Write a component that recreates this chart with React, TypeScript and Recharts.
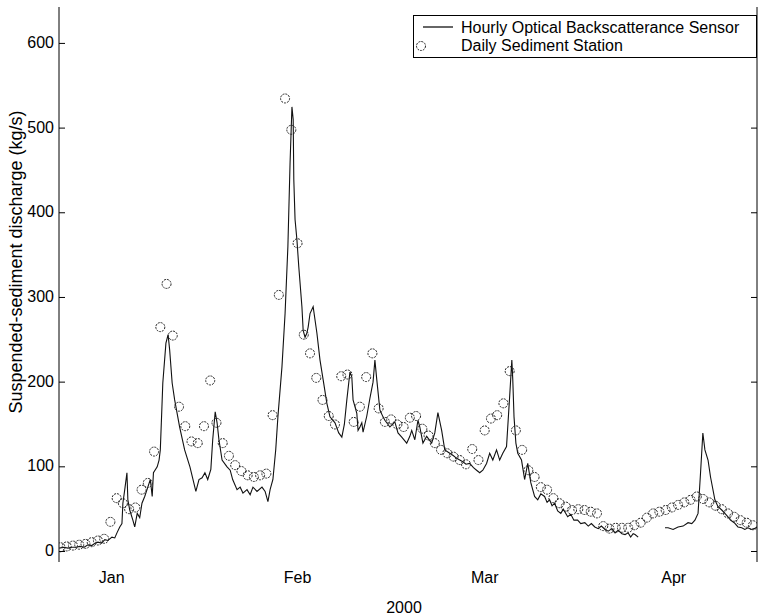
import React from 'react';
import { ComposedChart, Line, Scatter, XAxis, YAxis, Legend } from 'recharts';

const FONT = '"Liberation Sans", Arial, Helvetica, sans-serif';

// x is day of year 2000 (Jan 1 = 0)
const xDomain = [7.76, 119.65];
const yDomain = [-12.4, 643];
const yTicks = [0, 100, 200, 300, 400, 500, 600];
const monthStarts = [31, 60, 91];
const monthLabelDays = [16.2, 46, 76, 106.3];
const monthNames = ['Jan', 'Feb', 'Mar', 'Apr'];

// hourly optical backscatterance sensor
const sensorDays = [
  7.8, 8.5, 9.2, 9.8, 10.5, 11.1, 11.8, 12.4, 13.0, 13.6,
  14.0, 14.6, 15.1, 15.6, 16.25, 16.7, 17.05, 17.5, 17.85, 18.0,
  18.3, 18.65, 18.8, 19.1, 19.6, 19.9, 20.3, 20.7, 21.06, 21.5,
  22.0, 22.4, 22.7, 22.9, 23.5, 23.8, 24.0, 24.26, 24.4, 24.9,
  25.25, 25.5, 25.9, 26.3, 27.1, 27.9, 28.75, 29.7, 30.2, 30.7,
  31.15, 31.6, 32.1, 32.4, 32.8, 33.1, 33.4, 33.9, 34.7, 35.2,
  35.6, 36.3, 36.8, 37.25, 37.9, 38.4, 38.85, 39.5, 40.3, 40.8,
  41.25, 41.6, 42.05, 42.5, 42.85, 43.5, 44.0, 44.45, 44.8, 45.1,
  45.3, 45.4, 45.6, 45.9, 46.2, 46.7, 46.9, 47.2, 47.5, 47.7,
  48.0, 48.5, 49.1, 49.6, 50.1, 50.7, 51.2, 52.0, 52.6, 53.1,
  53.5, 53.9, 54.4, 54.7, 54.9, 55.5, 55.7, 56.0, 56.3, 56.5,
  57.1, 57.6, 58.1, 58.4, 58.7, 59.2, 59.7, 60.0, 60.8, 61.2,
  61.6, 62.1, 62.7, 63.5, 64.0, 64.3, 64.8, 65.3, 65.6, 66.1,
  66.7, 67.5, 68.0, 68.5, 69.1, 69.6, 70.4, 71.0, 71.5, 72.0,
  72.5, 73.0, 73.6, 74.2, 74.7, 75.2, 75.7, 76.3, 76.8, 77.3,
  77.9, 78.4, 78.9, 79.5, 80.0, 80.35, 80.5, 80.7, 81.0, 81.3,
  81.9, 82.4, 82.9, 83.4, 84.0, 84.5, 85.0, 85.6, 86.0, 86.4,
  86.8, 87.2, 87.7, 88.2, 88.6, 89.3, 89.8, 90.3, 90.9, 91.4,
  92.05, 92.6, 93.1, 93.65, 94.2, 94.7, 95.3, 95.8, 96.4, 96.9,
  97.4, 98.0, 98.5, 99.0, 99.4, 99.8, 100.1, 100.6, 102.5, 104.9,
  105.4, 106.2, 107.0, 107.8, 108.6, 109.2, 109.7, 110.2, 110.6, 110.97,
  111.3, 111.8, 112.2, 112.9, 113.4, 114.0, 114.5, 115.0, 115.4, 116.0,
  116.6, 117.2, 117.7, 118.2, 118.7, 119.2, 119.7,
];
const sensorFlow: (number | null)[] = [
  4, 5, 4, 5, 5, 6, 5, 8, 7, 10,
  11, 10, 14, 13, 17, 16, 22, 29, 33, 57,
  73, 93, 61, 49, 37, 29, 45, 40, 57, 65,
  76, 85, 65, 93, 100, 108, 120, 171, 199, 246,
  256, 238, 199, 179, 147, 120, 100, 71, 85, 87,
  93, 85, 97, 132, 165, 152, 132, 108, 100, 96,
  85, 73, 76, 69, 73, 67, 76, 71, 76, 71,
  59, 73, 85, 120, 159, 218, 281, 360, 459, 525,
  510, 439, 392, 368, 336, 289, 261, 253, 258, 265,
  281, 289, 258, 226, 203, 175, 159, 152, 140, 135,
  150, 179, 212, 206, 179, 163, 143, 147, 152, 141,
  160, 181, 200, 226, 203, 167, 159, 155, 147, 150,
  153, 140, 135, 128, 136, 143, 132, 155, 147, 128,
  136, 128, 140, 164, 143, 120, 116, 113, 110, 108,
  106, 103, 104, 99, 96, 93, 96, 104, 116, 108,
  120, 108, 116, 124, 183, 226, 203, 159, 128, 116,
  108, 85, 104, 81, 65, 61, 68, 65, 58, 61,
  54, 57, 48, 45, 50, 41, 44, 37, 37, 33,
  34, 30, 33, 29, 27, 30, 26, 24, 27, 22,
  25, 21, 20, 22, 17, 21, 20, 17, null, 28,
  28, 26, 29, 30, 34, 33, 37, 45, 93, 140,
  120, 108, 88, 61, 53, 49, 45, 41, 37, 34,
  29, 28, 26, 28, 26, 27, 29,
];

// daily sediment station, one value per day from day 8
const stationFirstDay = 8;
const stationLoad = [
  5, 6, 7, 8, 9, 11, 13, 15, 35, 63,
  57, 50, 52, 73, 81, 118, 265, 316, 255, 171,
  148, 130, 128, 148, 202, 152, 128, 113, 102, 95,
  90, 88, 90, 92, 161, 303, 535, 498, 364, 256,
  234, 205, 179, 160, 150, 207, 209, 153, 171, 206,
  234, 169, 153, 156, 150, 147, 158, 160, 145, 137,
  128, 120, 116, 112, 108, 103, 121, 108, 143, 157,
  161, 175, 213, 143, 120, 96, 88, 76, 73, 63,
  57, 53, 49, 50, 49, 47, 45, 30, 27, 28,
  28, 28, 31, 34, 40, 45, 47, 49, 52, 55,
  58, 61, 65, 62, 58, 54, 50, 45, 41, 37,
  34, 31,
];

const sensorData = sensorDays.map((d, i) => ({ day: d, flow: sensorFlow[i] }));
const stationData = stationLoad.map((v, i) => ({ day: stationFirstDay + i, load: v }));

const BottomTick = (p: any) => <line x1={p.x} x2={p.x} y1={p.y} y2={p.y - 7} stroke="#000" />;
const TopTick = (p: any) => <line x1={p.x} x2={p.x} y1={p.y} y2={p.y + 7} stroke="#000" />;
const MonthLabel = (p: any) => (
  <text x={p.x} y={p.y + 21} textAnchor="middle" fontSize={16} fontFamily={FONT} fill="#000">
    {monthNames[p.index]}
  </text>
);
const LeftTick = (p: any) => (
  <g>
    <line x1={p.x} x2={p.x + 6} y1={p.y} y2={p.y} stroke="#000" />
    <text x={p.x - 5} y={p.y + 4.5} textAnchor="end" fontSize={16} fontFamily={FONT} fill="#000">
      {p.payload.value}
    </text>
  </g>
);
const RightTick = (p: any) => <line x1={p.x} x2={p.x - 6} y1={p.y} y2={p.y} stroke="#000" />;

const Circle = (p: any) => (
  <circle cx={p.cx} cy={p.cy} r={4.5} fill="none" stroke="#222" strokeWidth={1} strokeDasharray="2 1" />
);

const LegendBox = () => (
  <svg width={344} height={43} style={{ display: 'block', background: '#fff' }}>
    <rect x={0.5} y={0.5} width={343} height={42} fill="#fff" stroke="#000" />
    <line x1={10} x2={40} y1={12} y2={12} stroke="#000" strokeWidth={1.2} />
    <circle cx={8} cy={31} r={4.5} fill="none" stroke="#222" strokeDasharray="2 1" />
    <text x={48} y={17.5} fontSize={16} fontFamily={FONT} fill="#000">Hourly Optical Backscatterance Sensor</text>
    <text x={48} y={36} fontSize={16} fontFamily={FONT} fill="#000">Daily Sediment Station</text>
  </svg>
);

export default function App() {
  return (
    <div style={{ position: 'absolute', left: 0, top: 0, background: '#fff' }}>
      <ComposedChart width={758} height={616} margin={{ top: 7, right: 0, bottom: 0, left: 0 }}>
        <XAxis
          xAxisId="months"
          dataKey="day"
          type="number"
          domain={xDomain}
          allowDataOverflow
          ticks={monthStarts}
          interval={0}
          height={0}
          tickSize={0}
          tickMargin={0}
          tickLine={false}
          tick={<BottomTick />}
          axisLine={{ stroke: '#000' }}
        />
        <XAxis
          xAxisId="labels"
          dataKey="day"
          type="number"
          domain={xDomain}
          allowDataOverflow
          ticks={monthLabelDays}
          interval={0}
          height={54}
          tickSize={0}
          tickMargin={0}
          tickLine={false}
          axisLine={false}
          tick={<MonthLabel />}
          label={{
            content: () => (
              <text x={404} y={613} textAnchor="middle" fontSize={16} fontFamily={FONT} fill="#000">2000</text>
            ),
          }}
        />
        <XAxis
          xAxisId="top"
          orientation="top"
          dataKey="day"
          type="number"
          domain={xDomain}
          allowDataOverflow
          ticks={monthStarts}
          interval={0}
          height={0}
          tickSize={0}
          tickMargin={0}
          tickLine={false}
          tick={<TopTick />}
          axisLine={{ stroke: '#000' }}
        />
        <YAxis
          yAxisId="left"
          type="number"
          domain={yDomain}
          allowDataOverflow
          ticks={yTicks}
          interval={0}
          width={59}
          tickSize={0}
          tickMargin={0}
          tickLine={false}
          tick={<LeftTick />}
          axisLine={{ stroke: '#000' }}
          label={{
            content: () => (
              <text
                x={16}
                y={262}
                transform="rotate(-90 16 262)"
                textAnchor="middle"
                dominantBaseline="central"
                fontSize={18}
                fontFamily={FONT}
                fill="#000"
              >
                Suspended-sediment discharge (kg/s)
              </text>
            ),
          }}
        />
        <YAxis
          yAxisId="right"
          orientation="right"
          type="number"
          domain={yDomain}
          allowDataOverflow
          ticks={yTicks}
          interval={0}
          width={1}
          tickSize={0}
          tickMargin={0}
          tickLine={false}
          tick={<RightTick />}
          axisLine={{ stroke: '#000' }}
        />
        <Line
          xAxisId="months"
          yAxisId="left"
          data={sensorData}
          dataKey="flow"
          type="linear"
          stroke="#111"
          strokeWidth={1.1}
          dot={false}
          activeDot={false}
          isAnimationActive={false}
        />
        <Scatter
          xAxisId="months"
          yAxisId="left"
          data={stationData}
          dataKey="load"
          shape={<Circle />}
          isAnimationActive={false}
        />
        <Legend
          layout="vertical"
          align="center"
          verticalAlign="middle"
          wrapperStyle={{ position: 'absolute', left: 413, top: 15, width: 344 }}
          content={() => <LegendBox />}
        />
      </ComposedChart>
    </div>
  );
}
